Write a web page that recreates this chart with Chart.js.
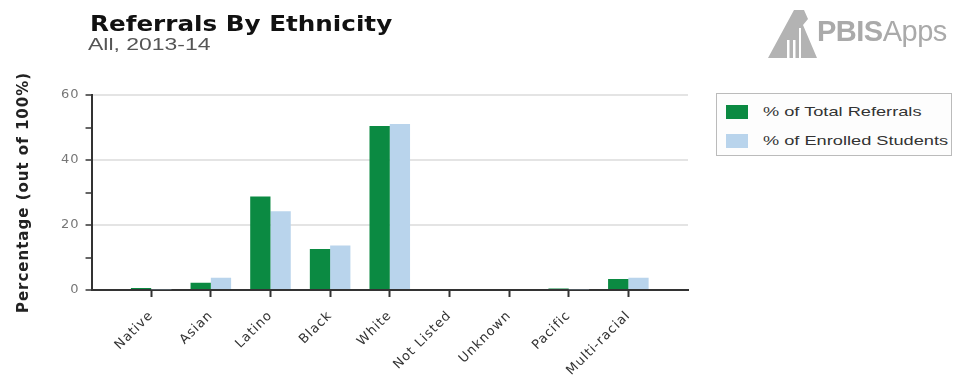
<!DOCTYPE html>
<html>
<head>
<meta charset="utf-8">
<script src="https://cdn.jsdelivr.net/npm/chart.js@4"></script>
<style>
  html, body { margin: 0; padding: 0; background: #fff; }
  #wrap { position: relative; width: 961px; height: 379px; overflow: hidden; font-family: "Liberation Sans", Arial, sans-serif; }
  #chart { position: absolute; left: 0; top: 0; }
  #title { position: absolute; left: 90px; top: 11px; font-family: "DejaVu Sans", sans-serif; font-size: 22px; font-weight: bold; color: #111; transform: scaleX(1.12); transform-origin: left top; white-space: nowrap; }
  #subtitle { position: absolute; left: 88px; top: 35px; font-size: 17px; color: #555; transform: scaleX(1.35); transform-origin: left top; white-space: nowrap; }
  #logo { position: absolute; left: 768px; top: 8px; height: 52px; width: 190px; }
  #logo .txt { position: absolute; left: 49px; top: 7px; font-size: 29px; color: #aaa; letter-spacing: -0.5px; white-space: nowrap; }
  #legend { position: absolute; left: 716px; top: 93px; width: 236px; height: 63px; border: 1px solid #bbb; box-sizing: border-box; background: #fdfdfd; }
  .item { position: absolute; left: 9px; height: 14px; font-size: 13px; color: #333; }
  .item span.sw { position: absolute; left: 0; top: 0; width: 22px; height: 14px; }
  .item span.lb { position: absolute; left: 37px; top: -1px; white-space: nowrap; transform: scaleX(1.4); transform-origin: left top; }
</style>
</head>
<body>
<div id="wrap">
  <canvas id="chart" width="961" height="379"></canvas>
  <div id="title">Referrals By Ethnicity</div>
  <div id="subtitle">All, 2013-14</div>
  <div id="logo">
    <svg width="52" height="52" style="position:absolute;left:0;top:2px">
      <polygon points="0,48 26,0 36,0 40,9 35,15 49,48" fill="#b3b3b3"/>
      <rect x="19" y="30" width="2.5" height="18" fill="#fff"/>
      <rect x="25" y="30" width="2.5" height="18" fill="#fff"/>
      <polygon points="31,18 33,18 33,48 31,48" fill="#fff"/>
    </svg>
    <div class="txt"><b>PBIS</b>Apps</div>
  </div>
  <div id="legend"></div>
</div>
<script>
// categorias e valores
const categorias = ['Native', 'Asian', 'Latino', 'Black', 'White', 'Not Listed', 'Unknown', 'Pacific', 'Multi-racial'];
const totalReferrals = [0.6, 2.2, 28.8, 12.6, 50.5, 0, 0, 0.5, 3.4];
const enrolledStudents = [0.2, 3.8, 24.2, 13.7, 51.1, 0, 0, 0.2, 3.8];
const yTicks = [0, 20, 40, 60];
const nomesSeries = ['% of Total Referrals', '% of Enrolled Students'];
const cores = ['#0b8a42', '#b9d4ec'];

// espaco vazio em cada ponta do eixo x
const labels = [''].concat(categorias, ['']);
const pad = arr => [null].concat(arr, [null]);

// texto do canvas um pouco mais espacado, como no original
const espacamento = {
  id: 'espacamento',
  beforeLayout(chart) { chart.ctx.letterSpacing = '1px'; },
  beforeDraw(chart) { chart.ctx.letterSpacing = '1px'; }
};

const ctx = document.getElementById('chart').getContext('2d');
new Chart(ctx, {
  type: 'bar',
  data: {
    labels: labels,
    datasets: [
      { label: nomesSeries[0], data: pad(totalReferrals), backgroundColor: cores[0] },
      { label: nomesSeries[1], data: pad(enrolledStudents), backgroundColor: cores[1] }
    ]
  },
  plugins: [espacamento],
  options: {
    responsive: false,
    animation: false,
    categoryPercentage: 0.68,
    barPercentage: 1,
    layout: { padding: { left: 15, top: 95, right: 273, bottom: 0 } },
    plugins: { legend: { display: false }, tooltip: { enabled: false } },
    scales: {
      x: {
        offset: false,
        afterFit: s => { s.height = 89; },
        grid: {
          offset: false,
          drawOnChartArea: false,
          tickLength: 7,
          tickColor: c => (c.index === 0 || c.index === labels.length - 1) ? 'transparent' : '#333',
          tickWidth: 2
        },
        border: { color: '#333', width: 2 },
        ticks: {
          autoSkip: false, maxRotation: 45, minRotation: 45, padding: 11,
          color: '#333', font: { family: 'DejaVu Sans', size: 13 }
        }
      },
      y: {
        min: 0, max: 60,
        grid: {
          color: c => (yTicks.includes(c.tick.value) && c.tick.value !== 0) ? '#e4e4e4' : 'transparent',
          lineWidth: 2,
          tickLength: 6,
          tickColor: '#333',
          tickWidth: 1.5
        },
        border: { color: '#333', width: 2 },
        ticks: {
          stepSize: 5,
          callback: v => yTicks.includes(v) ? v : '',
          color: '#777', font: { family: 'DejaVu Sans', size: 13 }, padding: 6
        },
        title: {
          display: true, text: 'Percentage (out of 100%)',
          color: '#222', font: { family: 'DejaVu Sans', size: 15, weight: 'bold' }, padding: { top: 0, bottom: 22 }
        }
      }
    }
  }
});

// legenda em html a partir das series
const leg = document.getElementById('legend');
nomesSeries.forEach((nome, i) => {
  const d = document.createElement('div');
  d.className = 'item';
  d.style.top = (11 + i * 29) + 'px';
  d.innerHTML = `<span class="sw" style="background:${cores[i]}"></span><span class="lb">${nome}</span>`;
  leg.appendChild(d);
});
</script>
</body>
</html>
